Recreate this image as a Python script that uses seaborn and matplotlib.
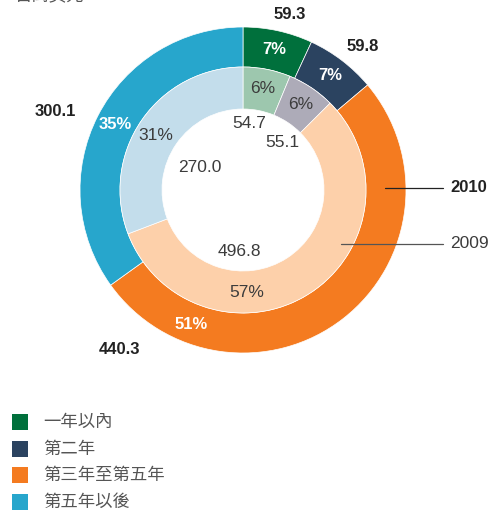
import numpy as np
import matplotlib
matplotlib.use("Agg")
import matplotlib.pyplot as plt
import seaborn as sns
from matplotlib.patches import Rectangle

# === DATOS ===
categorias = ["一年以內", "第二年", "第三年至第五年", "第五年以後"]
valores_2010 = [59.3, 59.8, 440.3, 300.1]
valores_2009 = [54.7, 55.1, 496.8, 270.0]
pct_2010 = ["7%", "7%", "51%", "35%"]
pct_2009 = ["6%", "6%", "57%", "31%"]
unidad = "百萬美元"

# === COLORES ===
colores_2010 = sns.color_palette(["#00703c", "#2b4360", "#f47b20", "#27a6cc"])
colores_2009 = sns.color_palette(["#9dc7ae", "#adabb8", "#fdd0aa", "#c3ddeb"])

sns.set_theme(style="white")
plt.rcParams["font.family"] = ["Liberation Sans", "Noto Sans CJK TC", "DejaVu Sans"]

fig = plt.figure(figsize=(5.01, 5.14), dpi=100)
ax = fig.add_axes([0, 0, 1, 1])

# centro y radios en pixeles (y hacia arriba)
cx, cy = 243, 514 - 190
r_ext, r_mid, r_hole = 163, 123, 81

ax.pie(valores_2010, colors=colores_2010, radius=r_ext, center=(cx, cy),
       startangle=90, counterclock=False, frame=True,
       wedgeprops=dict(width=r_ext - r_mid, edgecolor="white", linewidth=0.5))
ax.pie(valores_2009, colors=colores_2009, radius=r_mid, center=(cx, cy),
       startangle=90, counterclock=False, frame=True,
       wedgeprops=dict(width=r_mid - r_hole, edgecolor="white", linewidth=0.5))

ax.set_xlim(0, 501)
ax.set_ylim(0, 514)
ax.set_aspect("equal")
ax.axis("off")


def pos(theta, r):
    t = np.deg2rad(theta)
    return cx + r * np.sin(t), cy + r * np.cos(t)


def angulos_medios(vals):
    v = np.array(vals)
    fin = np.cumsum(v) / v.sum() * 360
    ini = fin - v / v.sum() * 360
    return (ini + fin) / 2


mid10 = angulos_medios(valores_2010)
mid09 = angulos_medios(valores_2009)

# ajustes manuales de angulo para las etiquetas naranjas
ang_pct10 = [mid10[0], mid10[1], 201, mid10[3]]
ang_pct09 = [mid09[0], mid09[1], 178, 302]
ang_val10 = [(15, 182), (39.8, 187), (217.8, 202), (292.6, 203)]
ang_val09 = [(5, 67), (40, 62), (183, 62), (297, 49)]

for a, t in zip(ang_pct10, pct_2010):
    x, y = pos(a, 144)
    ax.text(x, y, t, ha="center", va="center", color="white",
            fontsize=12, fontweight="bold")
for a, t in zip(ang_pct09, pct_2009):
    x, y = pos(a, 103)
    ax.text(x, y, t, ha="center", va="center", color="#3c3c3c", fontsize=12.5)
for (a, r), v in zip(ang_val10, valores_2010):
    x, y = pos(a, r)
    ax.text(x, y, f"{v:.1f}", ha="center", va="center", color="#222222",
            fontsize=12, fontweight="bold")
for (a, r), v in zip(ang_val09, valores_2009):
    x, y = pos(a, r)
    ax.text(x, y, f"{v:.1f}", ha="center", va="center", color="#3c3c3c",
            fontsize=12.5)

# === LINEAS GUIA DE ANIOS ===
ax.plot([385, 443], [514 - 188, 514 - 188], color="#222222", lw=0.9)
ax.text(450, 514 - 188, "2010", ha="left", va="center", fontsize=12,
        fontweight="bold", color="#222222")
ax.plot([341, 443], [514 - 244, 514 - 244], color="#555555", lw=0.9)
ax.text(450, 514 - 244, "2009", ha="left", va="center", fontsize=12.5,
        color="#3c3c3c")

# === TITULO (cortado arriba, como en el original) ===
ax.text(15, 514 - 3, unidad, ha="left", va="bottom", fontsize=12.5,
        color="#555555")

# === LEYENDA ===
filas_y = [422, 449, 475, 502]
for py, c, etiqueta in zip(filas_y, colores_2010, categorias):
    ax.add_patch(Rectangle((12, 514 - py - 8), 16, 16, color=c, lw=0))
    ax.text(43, 514 - py, etiqueta, ha="left", va="center", fontsize=12.5,
            color="#555555")

fig.savefig("out.png", dpi=100)
